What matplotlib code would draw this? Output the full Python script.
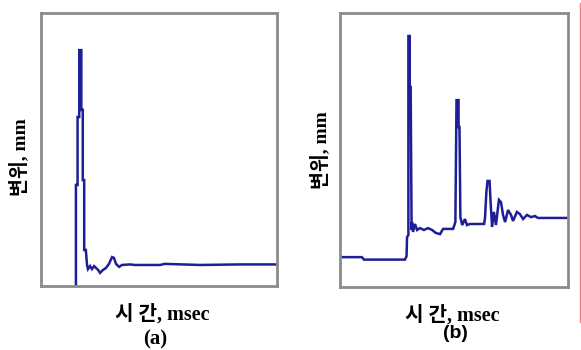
import matplotlib
matplotlib.use("Agg")
import matplotlib.pyplot as plt
from matplotlib.lines import Line2D

# arbitrary units: time 0-100, displacement 0-100 (no ticks on original)
t_a = [14.8, 14.8, 15.5, 15.5, 16.2, 16.2, 17.1, 17.1, 17.7, 17.7, 18.3, 18.3, 19.0,
       19.5, 19.9, 20.8, 21.6, 22.5, 23.3, 24.2, 25.0, 26.3, 27.5, 28.8, 30.1, 30.9,
       31.8, 33.1, 34.3, 37.7, 39.8, 50.4, 52.5, 67.4, 84.3, 100.0]
d_a = [-1.0, 37.0, 37.0, 61.9, 61.9, 86.4, 86.4, 64.5, 64.5, 38.8, 38.8, 13.2, 13.2,
       7.7, 6.2, 7.3, 6.2, 7.3, 6.6, 5.9, 4.8, 5.9, 6.6, 8.1, 10.6, 10.3,
       8.1, 7.0, 7.7, 7.9, 7.7, 7.7, 8.1, 7.7, 7.9, 7.9]

t_b = [0.0, 9.6, 10.5, 28.5, 29.2, 29.4, 30.0, 30.0, 30.6, 30.6, 31.0, 31.4, 31.6,
       32.0, 32.9, 33.8, 35.1, 36.8, 38.6, 40.4, 42.1, 43.9, 45.2, 49.6, 50.6, 51.1,
       52.0, 52.0, 52.4, 52.8, 53.6, 54.8, 55.7, 57.0, 63.2, 63.6, 64.2, 64.7, 65.6,
       66.0, 66.7, 67.5, 68.4, 69.7, 70.6, 71.5, 72.4, 73.7, 75.0, 75.9, 77.6, 78.9,
       80.3, 82.0, 83.8, 85.5, 86.8, 100.0]
d_b = [10.9, 10.9, 10.0, 10.0, 11.3, 18.2, 19.0, 91.6, 91.6, 73.0, 73.0, 20.8, 23.7,
       20.1, 23.0, 20.8, 21.5, 20.8, 21.5, 20.8, 19.7, 19.3, 21.2, 21.2, 23.7, 68.2,
       68.2, 58.4, 58.4, 25.5, 22.6, 24.8, 22.6, 23.0, 23.0, 25.2, 34.7, 38.7, 38.7,
       31.8, 21.9, 27.4, 22.6, 31.8, 31.0, 26.3, 23.7, 28.1, 26.3, 24.1, 27.4, 26.6,
       24.8, 26.3, 25.5, 25.9, 25.2, 25.2]

ylabel = "변위, mm"
xlabel = "시 간, msec"
tags = ["(a)", "(b)"]

W, H = 581, 350
fig = plt.figure(figsize=(W / 100, H / 100), dpi=100)
lab_font = ["Liberation Serif", "Noto Sans CJK KR"]

panels = [
    dict(box=(41, 13, 277, 286), t=t_a, d=d_a, yl=(19, 157), xl=(162, 314), tag=(155, 339),
         tagfont="Liberation Serif", tagsize=15),
    dict(box=(340, 13, 568, 287), t=t_b, d=d_b, yl=(320, 150), xl=(452, 315), tag=(455, 333),
         tagfont="Liberation Sans", tagsize=14),
]

for p, tag in zip(panels, tags):
    l, t, r, b = p["box"]
    ax = fig.add_axes([l / W, 1 - b / H, (r - l) / W, (b - t) / H])
    ax.plot(p["t"], p["d"], color="#1e1e96", lw=1.8, solid_joinstyle="miter")
    ax.set_xlim(0, 100)
    ax.set_ylim(0, 100)
    ax.set_xticks([])
    ax.set_yticks([])
    for s in ax.spines.values():
        s.set_color("#8c8c8c")
        s.set_linewidth(2.0)
    x, y = p["yl"]
    fig.text(x / W, 1 - y / H, ylabel, rotation=90, ha="center", va="center",
             fontsize=14, fontweight="bold", family=lab_font)
    x, y = p["xl"]
    fig.text(x / W, 1 - y / H, xlabel, ha="center", va="center",
             fontsize=14.5, fontweight="bold", family=lab_font)
    x, y = p["tag"]
    fig.text(x / W, 1 - y / H, tag, ha="center", va="center",
             fontsize=p["tagsize"], fontweight="bold", family=p["tagfont"])

# thin red rule at the right edge of the original
fig.add_artist(Line2D([579.5 / W, 579.5 / W], [1 - 3 / H, 1 - 322 / H],
                      color="#f08080", lw=1.0, transform=fig.transFigure))

fig.savefig("out.png", dpi=100)
